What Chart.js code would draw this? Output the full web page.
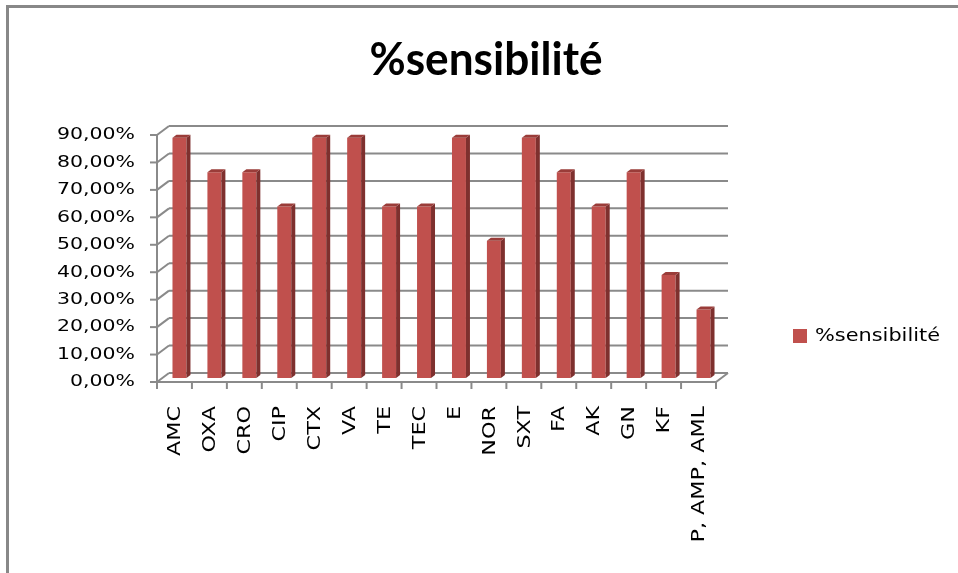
<!DOCTYPE html>
<html>
<head>
<meta charset="utf-8">
<script src="https://cdn.jsdelivr.net/npm/chart.js@4/dist/chart.umd.min.js"></script>
<style>
  html, body { margin: 0; padding: 0; background: #fff; }
  #wrap { width: 958px; height: 573px; position: relative; }
</style>
</head>
<body>
<div id="wrap"><canvas id="c" width="958" height="573"></canvas></div>
<script>
// Antibiotics tested
const categories = ['AMC', 'OXA', 'CRO', 'CIP', 'CTX', 'VA', 'TE', 'TEC', 'E', 'NOR', 'SXT', 'FA', 'AK', 'GN', 'KF', 'P, AMP, AML'];
// Share of sensitive strains (fraction)
const sensibilite = [0.875, 0.75, 0.75, 0.625, 0.875, 0.875, 0.625, 0.625, 0.875, 0.5, 0.875, 0.75, 0.625, 0.75, 0.375, 0.25];
// Value axis ticks
const tickValues = [0, 0.1, 0.2, 0.3, 0.4, 0.5, 0.6, 0.7, 0.8, 0.9];
const tickLabels = ['0,00%', '10,00%', '20,00%', '30,00%', '40,00%', '50,00%', '60,00%', '70,00%', '80,00%', '90,00%'];
const seriesName = '%sensibilité';
const chartTitle = '%sensibilité';

// Oblique 3D projection: offsets of the front edge and the back wall
// relative to the plane where the bar fronts sit.
const FRONT = { dx: -5, dy: 4 };
const BACK = { dx: 7, dy: -5 };
const BAR_DEPTH = { dx: 4, dy: -3 };

const COLORS = {
  front: '#C0504D',
  side: '#7E302E',
  top: '#9A3C39',
  grid: '#8A8A8A',
  frame: '#888888',
  text: '#000000'
};

function stretchedText(ctx, text, x, y, font, sx, align, baseline, rotate) {
  ctx.save();
  ctx.translate(x, y);
  if (rotate) ctx.rotate(rotate);
  ctx.scale(sx, 1);
  ctx.font = font;
  ctx.textAlign = align;
  ctx.textBaseline = baseline;
  ctx.fillStyle = COLORS.text;
  ctx.fillText(text, 0, 0);
  ctx.restore();
}

function fitScale(ctx, text, font, width) {
  ctx.save();
  ctx.font = font;
  const w = ctx.measureText(text).width;
  ctx.restore();
  return width / w;
}

const box3d = {
  id: 'box3d',
  beforeDatasetsDraw(chart) {
    const ctx = chart.ctx;
    const y = chart.scales.y;
    const L = chart.chartArea.left, R = chart.chartArea.right;
    ctx.save();
    ctx.strokeStyle = COLORS.grid;
    ctx.lineWidth = 2;
    ctx.lineCap = 'butt';
    // back wall gridlines and side wall diagonals
    tickValues.forEach(v => {
      const py = y.getPixelForValue(v);
      ctx.beginPath();
      ctx.moveTo(L + BACK.dx, py + BACK.dy);
      ctx.lineTo(R + BACK.dx, py + BACK.dy);
      ctx.stroke();
      ctx.beginPath();
      ctx.moveTo(L + FRONT.dx, py + FRONT.dy);
      ctx.lineTo(L + BACK.dx, py + BACK.dy);
      ctx.stroke();
      // tick mark on the value axis
      ctx.beginPath();
      ctx.moveTo(L + FRONT.dx - 7, py + FRONT.dy);
      ctx.lineTo(L + FRONT.dx, py + FRONT.dy);
      ctx.stroke();
    });
    const y0 = y.getPixelForValue(0);
    const yTop = y.getPixelForValue(tickValues[tickValues.length - 1]);
    // value axis line
    ctx.beginPath();
    ctx.moveTo(L + FRONT.dx, yTop + FRONT.dy);
    ctx.lineTo(L + FRONT.dx, y0 + FRONT.dy);
    ctx.stroke();
    // floor front edge and right diagonal
    ctx.beginPath();
    ctx.moveTo(L + FRONT.dx, y0 + FRONT.dy);
    ctx.lineTo(R + FRONT.dx, y0 + FRONT.dy);
    ctx.lineTo(R + BACK.dx, y0 + BACK.dy);
    ctx.stroke();
    // category tick marks
    const step = (R - L) / categories.length;
    for (let i = 0; i <= categories.length; i++) {
      const px = L + i * step + FRONT.dx;
      ctx.beginPath();
      ctx.moveTo(px, y0 + FRONT.dy);
      ctx.lineTo(px, y0 + FRONT.dy + 7);
      ctx.stroke();
    }
    ctx.restore();
  },
  afterDatasetsDraw(chart) {
    const ctx = chart.ctx;
    const meta = chart.getDatasetMeta(0);
    ctx.save();
    meta.data.forEach(bar => {
      const p = bar.getProps(['x', 'y', 'base', 'width'], true);
      const l = p.x - p.width / 2, r = p.x + p.width / 2;
      // side face
      ctx.fillStyle = COLORS.side;
      ctx.beginPath();
      ctx.moveTo(r, p.y);
      ctx.lineTo(r + BAR_DEPTH.dx, p.y + BAR_DEPTH.dy);
      ctx.lineTo(r + BAR_DEPTH.dx, p.base + BAR_DEPTH.dy);
      ctx.lineTo(r, p.base);
      ctx.closePath();
      ctx.fill();
      // top face
      ctx.fillStyle = COLORS.top;
      ctx.beginPath();
      ctx.moveTo(l, p.y);
      ctx.lineTo(l + BAR_DEPTH.dx, p.y + BAR_DEPTH.dy);
      ctx.lineTo(r + BAR_DEPTH.dx, p.y + BAR_DEPTH.dy);
      ctx.lineTo(r, p.y);
      ctx.closePath();
      ctx.fill();
    });
    ctx.restore();
  },
  afterDraw(chart) {
    const ctx = chart.ctx;
    const x = chart.scales.x, y = chart.scales.y;
    const L = chart.chartArea.left;

    // outer frame (top and left edges)
    ctx.save();
    ctx.strokeStyle = COLORS.frame;
    ctx.lineWidth = 3;
    ctx.beginPath();
    ctx.moveTo(7.5, 573);
    ctx.lineTo(7.5, 6.5);
    ctx.lineTo(958, 6.5);
    ctx.stroke();
    ctx.restore();

    // title
    const titleFont = 'bold 45px Lato';
    const ts = fitScale(ctx, chartTitle, titleFont, 233);
    stretchedText(ctx, chartTitle, 486, 75, titleFont, ts, 'center', 'alphabetic', 0);

    // value axis labels
    const yFont = '16.5px "DejaVu Sans"';
    const ys = fitScale(ctx, '90,00%', yFont, 78);
    tickValues.forEach((v, i) => {
      const py = y.getPixelForValue(v) + FRONT.dy;
      stretchedText(ctx, tickLabels[i], L + FRONT.dx - 22, py, yFont, ys, 'right', 'middle', 0);
    });

    // category labels, rotated
    const xFont = '18px "DejaVu Sans"';
    const xs = fitScale(ctx, 'AMC', xFont, 50);
    const y0 = y.getPixelForValue(0) + FRONT.dy;
    categories.forEach((c, i) => {
      const px = x.getPixelForValue(i) + FRONT.dx;
      stretchedText(ctx, c, px + 1, y0 + 24, xFont, xs, 'right', 'middle', -Math.PI / 2);
    });

    // legend
    ctx.save();
    ctx.fillStyle = COLORS.front;
    ctx.fillRect(793, 329, 14, 14);
    ctx.restore();
    const lFont = '18px "DejaVu Sans"';
    const ls = fitScale(ctx, seriesName, lFont, 125);
    stretchedText(ctx, seriesName, 815, 336, lFont, ls, 'left', 'middle', 0);
  }
};

new Chart(document.getElementById('c'), {
  type: 'bar',
  data: {
    labels: categories,
    datasets: [{
      label: seriesName,
      data: sensibilite,
      backgroundColor: COLORS.front,
      borderWidth: 0,
      categoryPercentage: 1,
      barPercentage: 0.4
    }]
  },
  options: {
    responsive: false,
    animation: false,
    devicePixelRatio: 1,
    layout: { padding: { left: 162, right: 237, top: 131, bottom: 195 } },
    scales: {
      x: { display: false, offset: true },
      y: { display: false, min: 0, max: 0.9 }
    },
    plugins: {
      legend: { display: false },
      title: { display: false },
      tooltip: { enabled: false }
    }
  },
  plugins: [box3d]
});
</script>
</body>
</html>
